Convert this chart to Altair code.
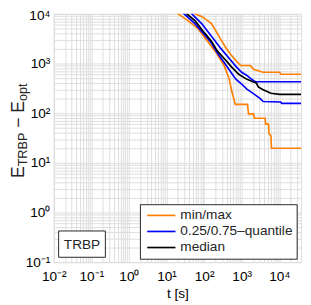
import altair as alt
import pandas as pd

# ---- data ----
t_max = [50, 57, 91, 157, 211, 285, 384, 518, 699, 942, 1710, 2050, 3700, 10300, 10900, 38000]
e_max = [11000, 10000, 8700, 6400, 4400, 2950, 2060, 1500, 1150, 914, 914, 763, 667, 667, 608, 608]

t_q75 = [45, 47, 86, 157, 285, 518, 741, 1000, 1350, 1820, 2310, 38000]
e_q75 = [11000, 10000, 6370, 3540, 1970, 1150, 836, 667, 582, 485, 430, 430]

t_med = [33, 35, 57, 91, 157, 224, 384, 550, 836, 1350, 2050, 2450, 2770, 3725, 6000, 10300, 38000]
e_med = [11000, 10000, 7300, 4640, 2825, 1800, 1145, 836, 608, 485, 424, 405, 338, 296, 252, 239, 239]

t_q25 = [26, 29.4, 57, 91, 157, 224, 341, 518, 699, 1000, 1350, 2050, 3120, 3725, 10900, 11600, 38000]
e_q25 = [11500, 10000, 6370, 4240, 2580, 1645, 1047, 667, 485, 387, 309, 247, 197, 172, 168, 157, 157]

t_min = [18, 20.5, 37, 68, 123, 211, 341, 459, 550, 678, 1430, 1520, 2050, 2180, 4200, 4330, 5180, 5340, 6000, 6200, 38000]
e_min = [11000, 10000, 7300, 5080, 2825, 1645, 914, 508, 270, 150, 150, 97, 97, 79, 79, 60, 60, 39, 35, 19.7, 19.7]

legend_labels = ["min/max", "0.25/0.75\u2013quantile", "median"]
x_exponents = [-2, -1, 0, 1, 2, 3, 4]
y_exponents = [-1, 0, 1, 2, 3, 4]

ORANGE = "#FF8000"
BLUE = "#0000FF"
BLACK = "#000000"
FRAME = "#262626"
FONT = "Liberation Sans"

X_MIN, X_MAX = 0.01, 38000
Y_MIN, Y_MAX = 0.1, 10000
W, H = 254, 255

SUP = str.maketrans("-0123456789", "\u207b\u2070\u00b9\u00b2\u00b3\u2074\u2075\u2076\u2077\u2078\u2079")


def sup_label(k):
    return "10" + str(k).translate(SUP)


def grid_values(exps, vmax):
    vals = []
    for k in range(exps[0], exps[-1] + 1):
        for m in range(1, 10):
            v = float(f"{m * 10.0 ** k:.10g}")
            if v <= vmax:
                vals.append(v)
    return vals


def label_expr(exps):
    expr = "''"
    for k in reversed(exps):
        v = float(f"{10.0 ** k:.10g}")
        expr = f"datum.value == {v!r} ? '{sup_label(k)}' : ({expr})"
    return expr


def series(name, kind, ts, es):
    return pd.DataFrame({"t": ts, "e": es, "curve": name, "kind": kind, "idx": range(len(ts))})


df_orange = pd.concat([series("min", legend_labels[0], t_min, e_min),
                       series("max", legend_labels[0], t_max, e_max)])
df_blue = pd.concat([series("q25", legend_labels[1], t_q25, e_q25),
                     series("q75", legend_labels[1], t_q75, e_q75)])
df_black = series("med", legend_labels[2], t_med, e_med)

xs = alt.Scale(type="log", domain=[X_MIN, X_MAX], nice=False)
ys = alt.Scale(type="log", domain=[Y_MIN, Y_MAX], nice=False)

x_axis = alt.Axis(values=grid_values(x_exponents, X_MAX), labelExpr=label_expr(x_exponents),
                  grid=True, ticks=False, domain=False, labelOverlap=False, labelFlush=False,
                  labelFontSize=14, labelPadding=8, title="t [s]", titleFontSize=14,
                  titleFontWeight="normal", titlePadding=3)
y_axis = alt.Axis(values=grid_values(y_exponents, Y_MAX), labelExpr=label_expr(y_exponents),
                  grid=True, ticks=False, domain=False, labelOverlap=False, labelFlush=False,
                  labelFontSize=14, labelPadding=4, title=None,
                  labelOffset={"condition": {"test": "datum.value >= 9999", "value": 2}, "value": 0})


def lines(df, color):
    return alt.Chart(df).mark_line(clip=True, color=color, strokeWidth=1.7, interpolate="linear").encode(
        x=alt.X("t:Q", scale=xs, axis=x_axis),
        y=alt.Y("e:Q", scale=ys, axis=y_axis),
        detail="curve:N", order="idx:Q")


one = pd.DataFrame({"a": [0]})


def txt(s, x, y, size, align="left", baseline="middle", angle=0, color=FRAME):
    kw = dict(align=align, baseline=baseline, fontSize=size, font=FONT, color=color)
    if angle:
        kw["angle"] = angle
    return alt.Chart(one).mark_text(**kw).encode(x=alt.value(x), y=alt.value(y), text=alt.value(s))


def box(x1, y1, x2, y2):
    return alt.Chart(one).mark_rect(fill="white", stroke=FRAME, strokeWidth=1).encode(
        x=alt.value(x1), x2=alt.value(x2), y=alt.value(y1), y2=alt.value(y2))


def hline(x1, x2, y, color):
    return alt.Chart(one).mark_rule(color=color, strokeWidth=1.7).encode(
        x=alt.value(x1), x2=alt.value(x2), y=alt.value(y))


layers = [lines(df_orange, ORANGE), lines(df_blue, BLUE), lines(df_black, BLACK)]

# legend
layers += [box(89, 196, 250, 252)]
for i, (lab, col) in enumerate(zip(legend_labels, [ORANGE, BLUE, BLACK])):
    yy = 207 + i * 16.5
    layers += [hline(96, 125, yy, col), txt(lab, 130, yy, 14)]

# TRBP annotation
layers += [box(5, 223, 53, 250), txt("TRBP", 29, 237, 14, align="center")]

# y-axis title with subscripts: E_TRBP − E_opt (reads bottom to top)
MAIN, SUB = 18, 13
xb = -31
xs_sub = xb + 4
w_E = 0.667 * MAIN
w_TRBP = (0.611 + 0.722 + 0.667 + 0.667) * SUB
w_sp = 0.278 * MAIN
w_minus = 0.584 * MAIN
w_opt = (0.556 + 0.556 + 0.278) * SUB
total = 2 * w_E + w_TRBP + 2 * w_sp + w_minus + w_opt
p = 120 + total / 2
layers += [txt("E", xb, p, MAIN, baseline="alphabetic", angle=270)]
p -= w_E
layers += [txt("TRBP", xs_sub, p, SUB, baseline="alphabetic", angle=270)]
p -= w_TRBP + w_sp
layers += [txt("\u2212", xb, p, MAIN, baseline="alphabetic", angle=270)]
p -= w_minus + w_sp
layers += [txt("E", xb, p, MAIN, baseline="alphabetic", angle=270)]
p -= w_E
layers += [txt("opt", xs_sub, p, SUB, baseline="alphabetic", angle=270)]

chart = alt.layer(*layers).properties(
    width=W, height=H,
    autosize=alt.AutoSizeParams(type="none"),
    padding={"left": 47, "top": 2, "right": 2, "bottom": 40},
).configure_view(stroke=FRAME, strokeWidth=1).configure_axis(
    gridColor="#c4c4c4", gridWidth=1, labelFont=FONT, titleFont=FONT,
    labelColor=FRAME, titleColor=FRAME,
).configure(background="white")

chart.save("out.html", embed_options={"renderer": "svg", "actions": False})
